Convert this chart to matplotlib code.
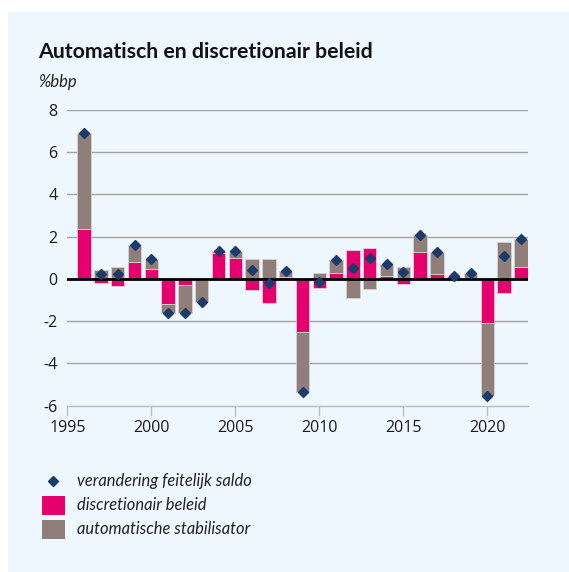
import matplotlib
matplotlib.use("Agg")
import matplotlib.pyplot as plt
from matplotlib.lines import Line2D
from matplotlib.patches import Rectangle
import numpy as np

years = list(range(1996, 2023))
discretionair = [2.35, -0.19, -0.33, 0.81, 0.47, -1.17, -0.27, -0.03, 1.22, 1.01,
                 -0.52, -1.12, 0.08, -2.51, -0.44, 0.30, 1.39, 1.45, 0.14, -0.24,
                 1.28, 0.24, 0.15, 0.02, -2.07, -0.65, 0.55]
automatisch = [4.55, 0.43, 0.58, 0.80, 0.48, -0.46, -1.33, -1.05, 0.08, 0.30,
               0.95, 0.92, 0.27, -2.84, 0.30, 0.60, -0.90, -0.49, 0.56, 0.55,
               0.79, 1.01, 0.00, 0.28, -3.46, 1.75, 1.36]
saldo = [6.90, 0.24, 0.24, 1.61, 0.95, -1.63, -1.60, -1.07, 1.30, 1.33,
         0.44, -0.20, 0.35, -5.35, -0.13, 0.90, 0.52, 0.99, 0.71, 0.32,
         2.07, 1.25, 0.14, 0.30, -5.53, 1.10, 1.91]
xticks = [1995, 2000, 2005, 2010, 2015, 2020]
yticks = [-6, -4, -2, 0, 2, 4, 6, 8]

title = "Automatisch en discretionair beleid"
unit = "%bbp"
labels = ["verandering feitelijk saldo", "discretionair beleid", "automatische stabilisator"]

PINK = "#E5006D"
GRAY = "#8F7E79"
NAVY = "#1C3B6A"
BG = "#EEF7FD"
FONT = ["Open Sans", "DejaVu Sans"]
FONT2 = ["Lato", "DejaVu Sans"]

plt.rcParams["font.family"] = FONT

W, H = 569, 572


def px(x, y):
    return (x / W, 1 - y / H)


fig = plt.figure(figsize=(W / 100, H / 100), dpi=100)
fig.patch.set_facecolor("white")
fig.add_artist(Rectangle(px(8, H), 1 - 8 / W, 1 - 12 / H, transform=fig.transFigure,
                         facecolor=BG, edgecolor="none", zorder=0))

ax = fig.add_axes([67.3 / W, 1 - 405.7 / H, (527.7 - 67.3) / W, (405.7 - 109.8) / H])
ax.set_facecolor("none")

d = np.array(discretionair)
a = np.array(automatisch)
bottom_a = np.where(np.sign(a) == np.sign(d), d, 0.0)

ax.bar(years, d, width=0.8, color=PINK, edgecolor="#f3d6e4", linewidth=0.5, zorder=3)
ax.bar(years, a, bottom=bottom_a, width=0.8, color=GRAY, edgecolor="#dcd6d4",
       linewidth=0.5, zorder=3)
ax.plot(years, saldo, linestyle="none", marker="D", markersize=5.5, color=NAVY, zorder=5)

ax.set_xlim(1995, 2022.4)
ax.set_ylim(-6, 8)
for y in yticks:
    if y == 0:
        ax.axhline(0, color="black", linewidth=2.0, zorder=4)
    elif y != -6:
        ax.axhline(y, color="#A3A3A3", linewidth=1.0, zorder=1)

for s in ["top", "right", "left"]:
    ax.spines[s].set_visible(False)
ax.spines["bottom"].set_color("#B8BEC4")
ax.spines["bottom"].set_linewidth(1.0)

ax.set_xticks(xticks)
ax.set_xticklabels([str(x) for x in xticks])
ax.set_yticks(yticks)
ax.set_yticklabels([str(y) for y in yticks])
ax.tick_params(axis="x", length=7, width=1, color="#B8BEC4", labelsize=11.5,
               labelcolor="#1a1a1a", pad=3)
ax.tick_params(axis="y", length=0, labelsize=11.5, labelcolor="#1a1a1a", pad=7)

fig.text(*px(38, 58.3), title, fontsize=15.3, fontweight="bold", color="#111111",
         va="baseline", ha="left", family=FONT2)
fig.text(*px(38, 87.5), unit, fontsize=12, fontstyle="italic", color="#222222",
         va="baseline", ha="left", family=FONT2)

# legend
fig.add_artist(Line2D([52.7 / W], [1 - 481 / H], transform=fig.transFigure,
                      linestyle="none", marker="D", markersize=4.8, color=NAVY))
fig.add_artist(Rectangle(px(42.3, 515), 22.4 / W, 19 / H, transform=fig.transFigure,
                         facecolor=PINK, edgecolor="none"))
fig.add_artist(Rectangle(px(42.3, 539), 22.4 / W, 19 / H, transform=fig.transFigure,
                         facecolor=GRAY, edgecolor="none"))
for lab, yy in zip(labels, [481, 505.5, 529.5]):
    fig.text(*px(76.7, yy), lab, fontsize=11.9, fontstyle="italic", color="#222222",
             va="center", ha="left", family=FONT2)

fig.savefig("out.png", dpi=100, facecolor="white")
